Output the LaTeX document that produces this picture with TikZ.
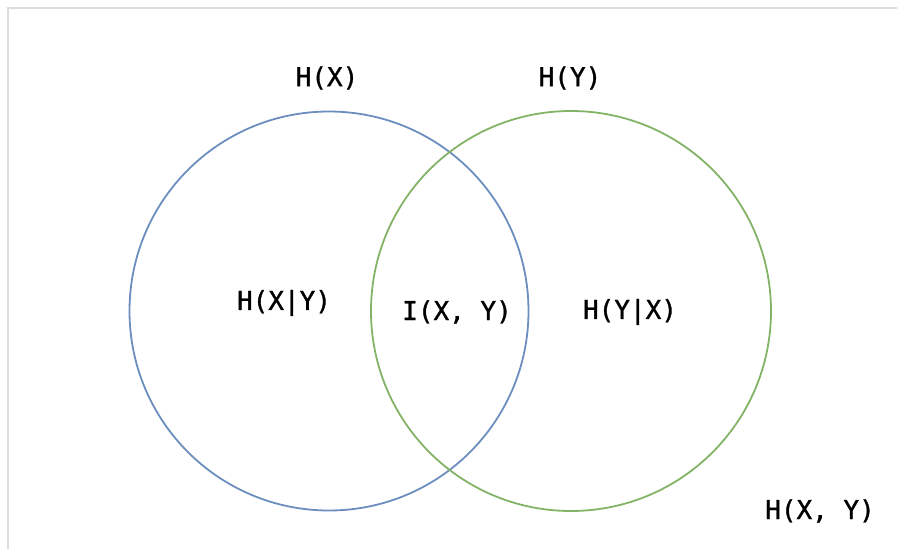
\documentclass[tikz,border=0pt]{standalone}
\usepackage{fontspec}
\setmonofont[FakeBold=1.2]{DejaVu Sans Mono}
\definecolor{bluec}{HTML}{6C8EBF}
\definecolor{greenc}{HTML}{82B366}
\definecolor{framec}{HTML}{DDDDDD}
\begin{document}
\begin{tikzpicture}[x=1pt,y=-1pt,
  lbl/.style={font=\ttfamily\fontsize{26}{30}\selectfont, inner sep=0pt, anchor=center},
  circ/.style={line width=1.8pt}]
\useasboundingbox (0,0) rectangle (897,549);
\draw[framec, line width=1.5pt] (8,549) -- (8,8) -- (897,8);
\node[circ, draw=bluec, circle, minimum size=399pt, inner sep=0pt] (cx) at (329,311) {};
\node[circ, draw=greenc, circle, minimum size=400pt, inner sep=0pt] (cy) at (571,311) {};
\node[lbl] (hx) at (327,78) {H(X)};
\node[lbl] (hy) at (570,78) {H(Y)};
\node[lbl] (hxy) at (284,303) {H(X|Y)};
\node[lbl] (ixy) at (457,312) {I(X, Y)};
\node[lbl] (hyx) at (630,312) {H(Y|X)};
\node[lbl] (hjoint) at (820,511) {H(X, Y)};
\end{tikzpicture}
\end{document}
